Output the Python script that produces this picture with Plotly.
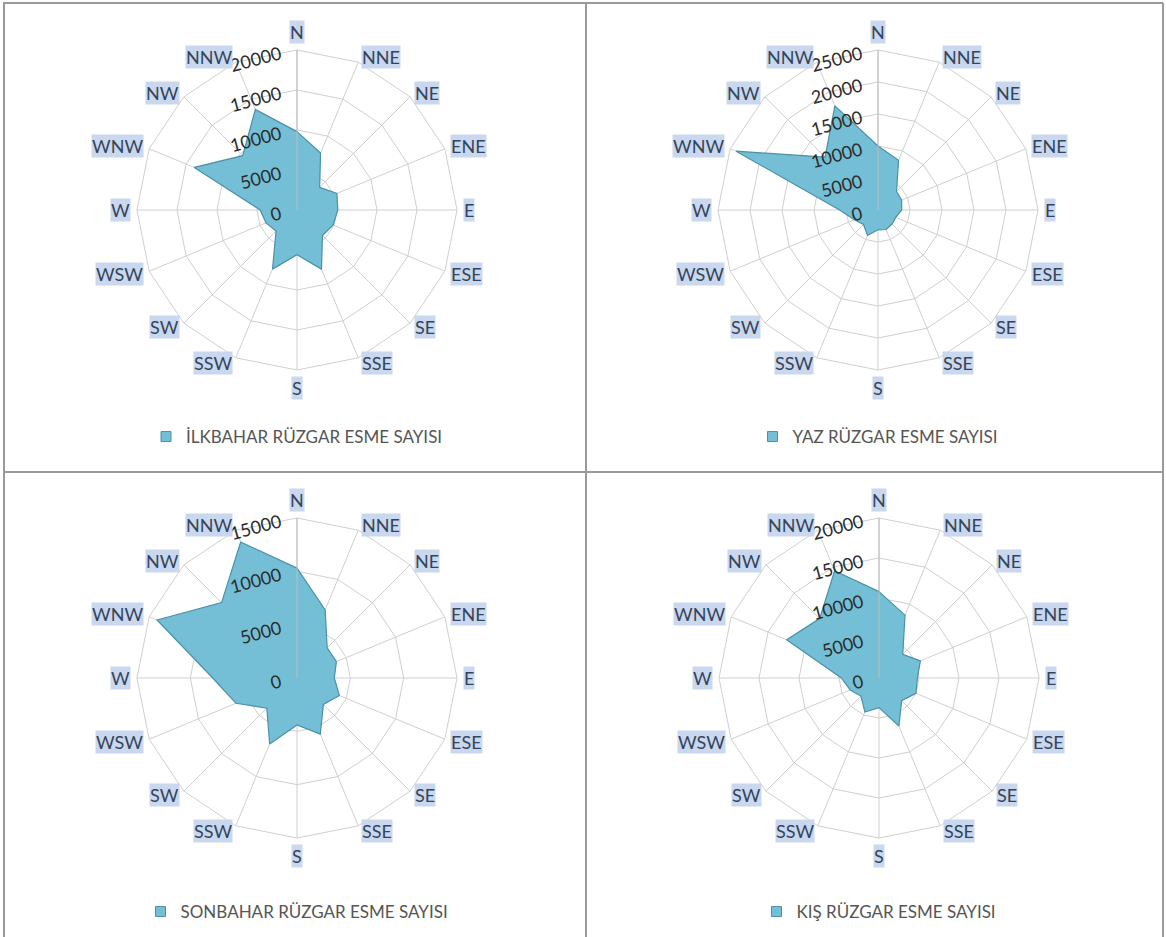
import math
import plotly.graph_objects as go

# Wind direction categories (16-point compass)
directions = ["N", "NNE", "NE", "ENE", "E", "ESE", "SE", "SSE",
              "S", "SSW", "SW", "WSW", "W", "WNW", "NW", "NNW"]

# Seasonal wind occurrence counts per direction
ilkbahar = [9800, 7700, 4000, 5400, 5100, 4900, 4500, 8000,
            5600, 8000, 3700, 4200, 4600, 13900, 9600, 13600]
yaz = [10000, 8400, 4100, 4000, 3700, 3000, 3100, 3300,
       3100, 4300, 3200, 4000, 6000, 24000, 11700, 17600]
sonbahar = [10300, 6900, 4000, 4000, 3500, 4300, 3500, 5700,
            4400, 6700, 4000, 6200, 7900, 14200, 10000, 13800]
kis = [10800, 8500, 4200, 5600, 4800, 5000, 4000, 6500,
       3700, 4600, 3200, 3900, 4700, 12500, 10500, 14500]

series_names = ["İLKBAHAR RÜZGAR ESME SAYISI", "YAZ RÜZGAR ESME SAYISI",
                "SONBAHAR RÜZGAR ESME SAYISI", "KIŞ RÜZGAR ESME SAYISI"]
series_values = [ilkbahar, yaz, sonbahar, kis]
axis_max = [20000, 25000, 15000, 20000]
radial_step = 5000

# Page geometry (pixels)
W, H = 1166, 937
R = 160
centers = [(297, 210), (878, 210), (297, 678), (879, 678)]
legend_y = [437, 437, 912, 912]

FILL = "#74bfd6"
EDGE = "#4a90a8"
GRID = "#cfcfcf"
LABEL_FONT = "Lato, Open Sans, sans-serif"

fig = go.Figure()
layout = dict(width=W, height=H, margin=dict(l=0, r=0, t=0, b=0),
              paper_bgcolor="white", plot_bgcolor="white",
              annotations=[], shapes=[])

for i, (name, vals, vmax, (cx, cy)) in enumerate(zip(series_names, series_values, axis_max, centers)):
    pid = "polar" if i == 0 else f"polar{i + 1}"
    lid = "legend" if i == 0 else f"legend{i + 1}"
    # filled radar polygon
    fig.add_trace(go.Scatterpolar(
        r=vals + vals[:1], theta=directions + directions[:1],
        mode="lines", fill="toself", fillcolor=FILL,
        line=dict(color=EDGE, width=1.2),
        name=name, subplot=pid, showlegend=False,
        hoverinfo="r+theta",
    ))
    # legend entry with a square swatch
    fig.add_trace(go.Scatterpolar(
        r=[None], theta=[None], mode="markers",
        marker=dict(symbol="square", size=10, color=FILL,
                    line=dict(color=EDGE, width=1)),
        name=name, subplot=pid, legend=lid, showlegend=True,
        hoverinfo="skip",
    ))
    layout[pid] = dict(
        domain=dict(x=[(cx - R) / W, (cx + R) / W],
                    y=[1 - (cy + R) / H, 1 - (cy - R) / H]),
        bgcolor="white",
        gridshape="linear",
        radialaxis=dict(range=[0, vmax], dtick=radial_step, tick0=0,
                        angle=90, side="counterclockwise", tickangle=75,
                        exponentformat="none", tickformat="d",
                        showline=True, linecolor="#bdbdbd", linewidth=1,
                        gridcolor=GRID, ticks="",
                        tickfont=dict(family=LABEL_FONT, size=18, color="#2b2b2b"),
                        layer="above traces"),
        angularaxis=dict(rotation=90, direction="clockwise",
                         categoryorder="array", categoryarray=directions,
                         showticklabels=False, ticks="",
                         gridcolor=GRID, linecolor=GRID, linewidth=1),
    )
    layout[lid] = dict(
        x=cx / W, y=1 - legend_y[i] / H, xanchor="center", yanchor="middle",
        orientation="h", bgcolor="rgba(0,0,0,0)",
        font=dict(family=LABEL_FONT, size=17, color="#555555"),
        itemwidth=30,
    )
    # Direction labels with highlighted background
    for k, d in enumerate(directions):
        ang = math.radians(k * 22.5)
        s, c = math.sin(ang), math.cos(ang)
        rr = 166
        px, py = cx + rr * s, cy - rr * c
        if s > 0.1:
            xa = "left"
        elif s < -0.1:
            xa = "right"
        else:
            xa = "center"
        if abs(s) < 0.1:
            ya = "bottom" if c > 0 else "top"
        else:
            ya = "middle"
        layout["annotations"].append(dict(
            x=px / W, y=1 - py / H, xref="paper", yref="paper",
            text=d, showarrow=False, xanchor=xa, yanchor=ya,
            font=dict(family=LABEL_FONT, size=18, color="#34445a"),
            bgcolor="#c9d8ee", borderpad=0,
        ))

# Panel frames
def hline(y, x0, x1):
    return dict(type="line", xref="paper", yref="paper",
                x0=x0 / W, x1=x1 / W, y0=1 - y / H, y1=1 - y / H,
                line=dict(color="#9a9a9a", width=2))

def vline(x, y0, y1):
    return dict(type="line", xref="paper", yref="paper",
                x0=x / W, x1=x / W, y0=1 - y0 / H, y1=1 - y1 / H,
                line=dict(color="#9a9a9a", width=2))

layout["shapes"] += [
    hline(3, 3, 1163), hline(472, 3, 1163),
    vline(4, 3, 937), vline(586, 3, 937), vline(1163, 3, 937),
]

fig.update_layout(**layout)
fig.write_html("out.html")
